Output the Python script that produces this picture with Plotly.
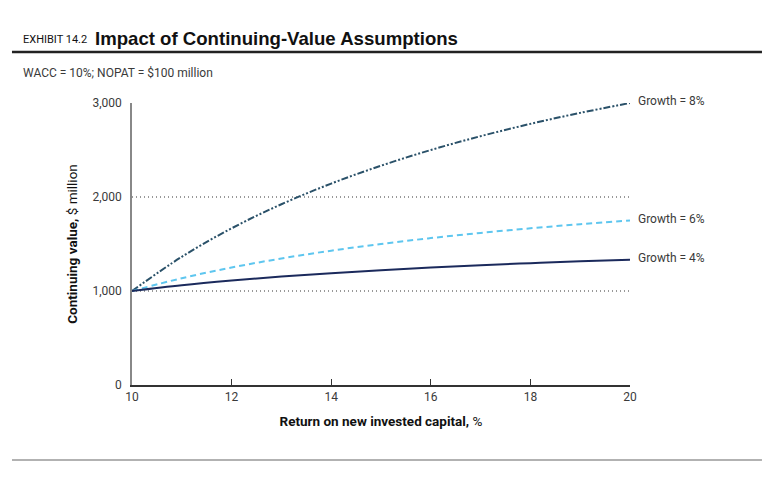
import plotly.graph_objects as go

# Return on new invested capital, %
ronic = [10, 11, 12, 13, 14, 15, 16, 17, 18, 19, 20]

# Continuing value, $ million
cv_growth_8 = [1000, 1364, 1667, 1923, 2143, 2333, 2500, 2647, 2778, 2895, 3000]
cv_growth_6 = [1000, 1136, 1250, 1346, 1429, 1500, 1563, 1618, 1667, 1711, 1750]
cv_growth_4 = [1000, 1061, 1111, 1154, 1190, 1222, 1250, 1275, 1296, 1316, 1333]

series_names = ['Growth = 8%', 'Growth = 6%', 'Growth = 4%']
y_ticks = [0, 1000, 2000, 3000]
y_tick_text = ['0', '1,000', '2,000', '3,000']
x_ticks = [10, 12, 14, 16, 18, 20]

FONT = 'Roboto, sans-serif'
TXT = '#3a3a3a'

fig = go.Figure()

styles = [
    dict(color='#2a5169', width=2, dash='7px,2px,2px,2px,2px,2px'),
    dict(color='#5ec6ef', width=2, dash='6px,4px'),
    dict(color='#1b2a5c', width=2, dash='solid'),
]
for name, vals, st in zip(series_names, [cv_growth_8, cv_growth_6, cv_growth_4], styles):
    fig.add_trace(go.Scatter(x=ronic, y=vals, mode='lines', name=name, line=st,
                             line_shape='spline', showlegend=False))
    # end label
    fig.add_annotation(x=ronic[-1], y=vals[-1], text=name, showarrow=False,
                       xanchor='left', xshift=6, yshift=2,
                       font=dict(family=FONT, size=12, color=TXT))

fig.update_xaxes(range=[10, 20], tickvals=x_ticks, ticks='inside', ticklen=6,
                 tickcolor='#333333', showline=True, linecolor='#333333', linewidth=1.5,
                 showgrid=False, zeroline=False,
                 tickfont=dict(family=FONT, size=12, color=TXT),
                 title=dict(text='<b>Return on new invested capital,</b> %',
                            font=dict(family=FONT, size=13.5, color='#111111'), standoff=13))
fig.update_yaxes(range=[0, 3000], tickvals=y_ticks, ticktext=y_tick_text, ticks='',
                 showline=True, linecolor='#888888', linewidth=1.5,
                 showgrid=True, gridcolor='#999999', griddash='1px,3px', gridwidth=1.5,
                 zeroline=False, ticklabelstandoff=6,
                 tickfont=dict(family=FONT, size=12, color=TXT),
                 title=dict(text='<b>Continuing value,</b> $ million',
                            font=dict(family=FONT, size=13.5, color='#111111'), standoff=12))

# header and footer
fig.add_annotation(xref='paper', yref='paper', x=-0.222, y=1.226, xanchor='left', yanchor='middle',
                   showarrow=False, text='EXHIBIT 14.2',
                   font=dict(family=FONT, size=11, color='#111111'))
fig.add_annotation(xref='paper', yref='paper', x=-0.079, y=1.23, xanchor='left', yanchor='middle',
                   showarrow=False, text='<b>Impact of Continuing-Value Assumptions</b>',
                   font=dict(family='Liberation Sans, Arial, sans-serif', size=18.6, color='#111111'))
fig.add_annotation(xref='paper', yref='paper', x=-0.222, y=1.106, xanchor='left', yanchor='middle',
                   showarrow=False, text='WACC = 10%; NOPAT = $100 million',
                   font=dict(family=FONT, size=12, color=TXT))
fig.add_shape(type='line', xref='paper', yref='paper', x0=-0.241, x1=1.265, y0=1.181, y1=1.181,
              line=dict(color='#222222', width=2.5))
fig.add_shape(type='line', xref='paper', yref='paper', x0=-0.241, x1=1.265, y0=-0.266, y1=-0.266,
              line=dict(color='#999999', width=1.5))

fig.update_layout(
    width=782, height=477,
    margin=dict(l=124, r=160, t=95, b=100),
    paper_bgcolor='white', plot_bgcolor='white',
)

fig.write_html('out.html')
